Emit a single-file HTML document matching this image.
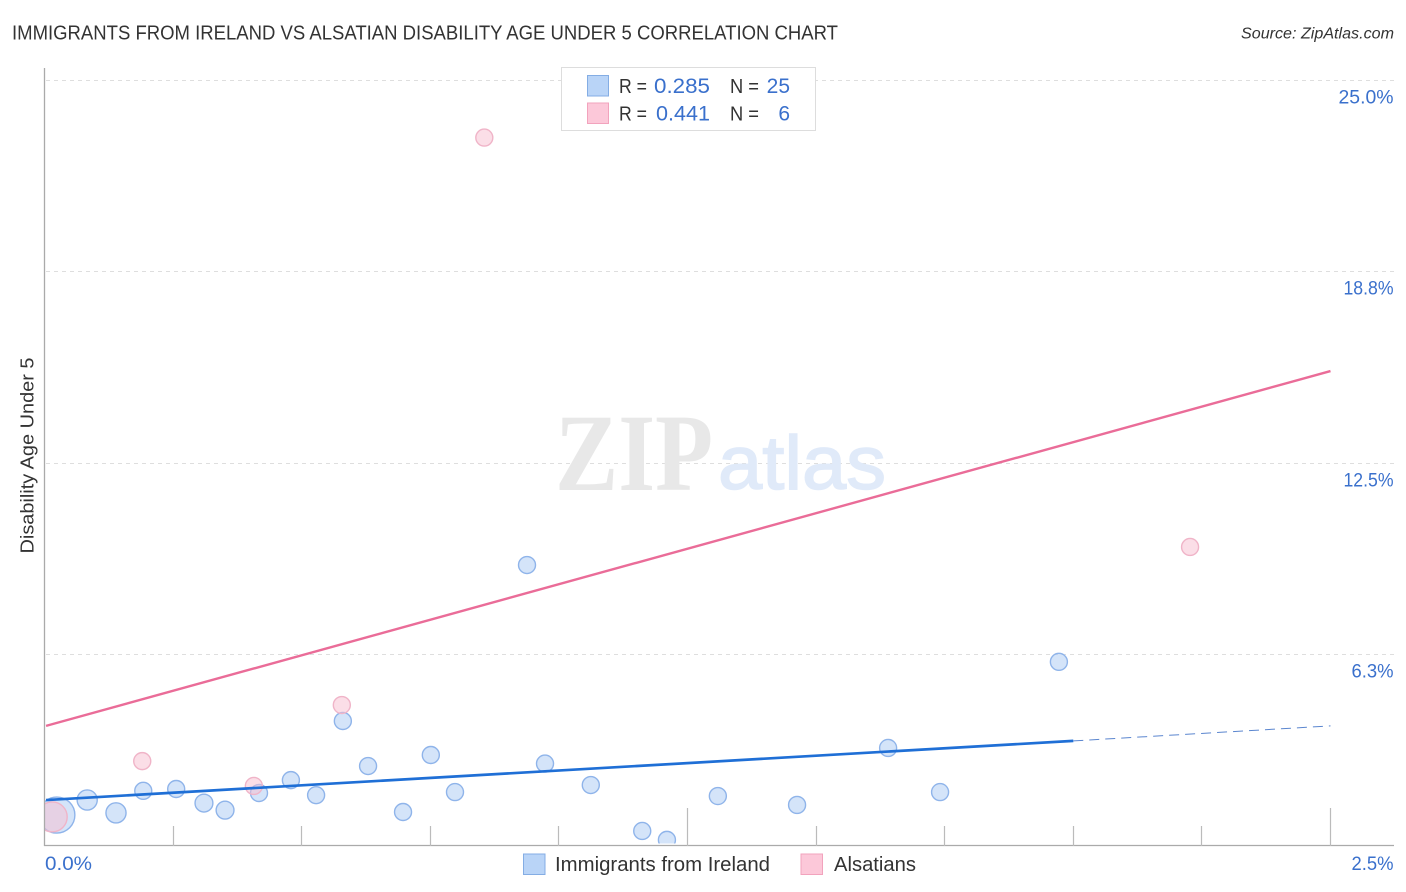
<!DOCTYPE html>
<html lang="en">
<head>
<meta charset="utf-8">
<title>Immigrants from Ireland vs Alsatian Disability Age Under 5 Correlation Chart</title>
<style>
html,body{margin:0;padding:0;background:#fff;}
svg{display:block;font-family:"Liberation Sans",sans-serif;}
</style>
</head>
<body>
<svg id="chart" xmlns="http://www.w3.org/2000/svg" width="1406" height="892" viewBox="0 0 1406 892">
  <defs>
    <clipPath id="plot-clip"><rect x="45" y="60" width="1350" height="783.5"/></clipPath>
  </defs>
  <rect x="0" y="0" width="1406" height="892" fill="#fff"/>
  <text x="12" y="39.5" font-size="20" fill="#333" textLength="826" lengthAdjust="spacingAndGlyphs">IMMIGRANTS FROM IRELAND VS ALSATIAN DISABILITY AGE UNDER 5 CORRELATION CHART</text>
  <text x="1394" y="38.5" font-size="15.5" font-style="italic" fill="#333" text-anchor="end" textLength="153" lengthAdjust="spacingAndGlyphs">Source: ZipAtlas.com</text>
  <g id="grid"></g>
  <g>
    <text x="555" y="490" font-family="'Liberation Serif',serif" font-weight="bold" font-size="110" fill="#e8e8e8" textLength="158" lengthAdjust="spacingAndGlyphs">ZIP</text>
    <text x="718" y="489" font-size="76" fill="#e0eaf9" stroke="#e0eaf9" stroke-width="1.5" textLength="168" lengthAdjust="spacingAndGlyphs">atlas</text>
  </g>
  <g id="points" clip-path="url(#plot-clip)"></g>
  <rect x="0" y="60" width="44.5" height="790" fill="#fff"/>
  <g id="axes"></g>
  <g id="trends"></g>
  <g id="ticklabels"></g>
  <text transform="translate(33.5,455.5) rotate(-90)" font-size="18" fill="#333" text-anchor="middle" textLength="196" lengthAdjust="spacingAndGlyphs">Disability Age Under 5</text>

  <g>
    <rect x="561.5" y="67.5" width="254" height="63" fill="#fff" stroke="#ddd" stroke-width="1"/>
    <rect x="587.5" y="75.5" width="21" height="20.5" fill="#b9d4f7" stroke="#84ade4" stroke-width="1"/>
    <rect x="587.5" y="103" width="21" height="20.5" fill="#fcc8d9" stroke="#f2a3bd" stroke-width="1"/>
    <text x="619" y="93" font-size="20" fill="#333" textLength="28" lengthAdjust="spacingAndGlyphs">R =</text>
    <text x="654" y="93" font-size="21" fill="#3a70cc" textLength="56" lengthAdjust="spacingAndGlyphs">0.285</text>
    <text x="730" y="93" font-size="20" fill="#333" textLength="29" lengthAdjust="spacingAndGlyphs">N =</text>
    <text x="790" y="93" font-size="21" fill="#3a70cc" text-anchor="end">25</text>
    <text x="619" y="120.5" font-size="20" fill="#333" textLength="28" lengthAdjust="spacingAndGlyphs">R =</text>
    <text x="656" y="120.5" font-size="21" fill="#3a70cc" textLength="54" lengthAdjust="spacingAndGlyphs">0.441</text>
    <text x="730" y="120.5" font-size="20" fill="#333" textLength="29" lengthAdjust="spacingAndGlyphs">N =</text>
    <text x="790" y="120.5" font-size="21" fill="#3a70cc" text-anchor="end">6</text>
  </g>

  <g>
    <rect x="523.5" y="854" width="21.5" height="20.5" fill="#b9d4f7" stroke="#84ade4" stroke-width="1"/>
    <text x="555" y="871" font-size="20" fill="#333" textLength="215" lengthAdjust="spacingAndGlyphs">Immigrants from Ireland</text>
    <rect x="801" y="854" width="21.5" height="20.5" fill="#fcc8d9" stroke="#f2a3bd" stroke-width="1"/>
    <text x="834" y="871" font-size="20" fill="#333" textLength="82" lengthAdjust="spacingAndGlyphs">Alsatians</text>
  </g>
</svg>
<script>
// Chart data (percent values)
var xTickValues = [0, 0.25, 0.5, 0.75, 1, 1.25, 1.5, 1.75, 2, 2.25, 2.5];
var xMajorTicks = [1.25, 2.5];
var xTickLabels = ["0.0%", "2.5%"];
var yGridValues = [6.25, 12.5, 18.75, 25];
var yTickLabels = ["6.3%", "12.5%", "18.8%", "25.0%"];

var irelandX = [0.024, 0.083, 0.139, 0.192, 0.256, 0.310, 0.351, 0.417, 0.479, 0.528, 0.580, 0.629, 0.697, 0.751, 0.798, 0.938, 0.973, 1.062, 1.162, 1.210, 1.309, 1.463, 1.640, 1.741, 1.972];
var irelandY = [1.01, 1.50, 1.08, 1.80, 1.86, 1.40, 1.17, 1.73, 2.15, 1.66, 4.08, 2.61, 1.11, 2.97, 1.76, 9.17, 2.69, 1.99, 0.49, 0.20, 1.63, 1.34, 3.20, 1.76, 6.01];
var irelandWeight = [4.5, 1.4, 1.4, 1, 1, 1.1, 1.1, 1, 1, 1, 1, 1, 1, 1, 1, 1, 1, 1, 1, 1, 1, 1, 1, 1, 1];

var alsatianX = [0.015, 0.190, 0.407, 0.578, 0.855, 2.227];
var alsatianY = [0.95, 2.77, 1.96, 4.60, 23.12, 9.76];
var alsatianWeight = [3.1, 1, 1, 1, 1, 1];

var irelandTrendX = [0.003, 2.0];
var irelandTrendY = [1.50, 3.43];
var irelandTrendDashX = [2.0, 2.5];
var irelandTrendDashY = [3.43, 3.92];
var alsatianTrendX = [0.003, 2.5];
var alsatianTrendY = [3.92, 15.50];

// Axis functions
function xScale(v) { return 44.5 + v / 2.5 * 1286; }
function yScale(v) { return 846 - v / 25 * 766; }
function radius(w) { return 8.5 * Math.sqrt(w); }

// Label widths follow the wider typeface of the reference
function labelWidth(s) { return s.length === 5 ? (s.charAt(0) === "2" ? 55 : 50) : (s.charAt(0) === "0" ? 47 : 42); }

var NS = "http://www.w3.org/2000/svg";
function make(tag, attrs, parent) {
  var el = document.createElementNS(NS, tag);
  for (var k in attrs) { el.setAttribute(k, attrs[k]); }
  parent.appendChild(el);
  return el;
}

var grid = document.getElementById("grid");
var axes = document.getElementById("axes");
var points = document.getElementById("points");
var trends = document.getElementById("trends");
var labels = document.getElementById("ticklabels");

yGridValues.forEach(function (v, i) {
  var y = Math.floor(yScale(v)) + 0.5;
  var g = make("line", {x1: 46, x2: 1394, y1: y, y2: y, stroke: "#dedede", "stroke-width": 1, "stroke-dasharray": "4 4"}, grid);
  
  
  var t = make("text", {x: 1393.5, y: y + 23, "font-size": 19, fill: "#3a70cc", "text-anchor": "end", textLength: labelWidth(yTickLabels[i]), lengthAdjust: "spacingAndGlyphs"}, labels);
  t.textContent = yTickLabels[i];
  
  
});

var yAxis = make("line", {x1: 44.5, x2: 44.5, y1: 68, y2: 846, stroke: "#aaa", "stroke-width": 1.3}, axes);


var xAxis = make("line", {x1: 44, x2: 1394, y1: 845.5, y2: 845.5, stroke: "#aaa", "stroke-width": 1.3}, axes);



xTickValues.forEach(function (v) {
  if (v === 0) { return; }
  var x = Math.floor(xScale(v)) + 0.5;
  var top = xMajorTicks.indexOf(v) >= 0 ? 808 : 826;
  var tick = make("line", {x1: x, x2: x, y1: top, y2: 846, stroke: "#bbb", "stroke-width": 1.2}, axes);
  
  
});

var x0Label = make("text", {x: 45, y: 870, "font-size": 19, fill: "#3a70cc", textLength: labelWidth(xTickLabels[0]), lengthAdjust: "spacingAndGlyphs"}, labels);
x0Label.textContent = xTickLabels[0];


var x1Label = make("text", {x: 1393.5, y: 870, "font-size": 19, fill: "#3a70cc", "text-anchor": "end", textLength: labelWidth(xTickLabels[1]), lengthAdjust: "spacingAndGlyphs"}, labels);
x1Label.textContent = xTickLabels[1];



irelandX.forEach(function (v, i) {
  var c = make("circle", {cx: xScale(v), cy: yScale(irelandY[i]), r: radius(irelandWeight[i]), fill: "#a9caf3", "fill-opacity": 0.5, stroke: "#8fb4ea", "stroke-width": 1.4}, points);
  
  
});

alsatianX.forEach(function (v, i) {
  var c = make("circle", {cx: xScale(v), cy: yScale(alsatianY[i]), r: radius(alsatianWeight[i]), fill: "#f8bdd0", "fill-opacity": 0.5, stroke: "#f0b4c8", "stroke-width": 1.4}, points);
  
  
});

var alsLine = make("line", {x1: xScale(alsatianTrendX[0]), y1: yScale(alsatianTrendY[0]), x2: xScale(alsatianTrendX[1]), y2: yScale(alsatianTrendY[1]), stroke: "#ea6c98", "stroke-width": 2.4}, trends);


var irLine = make("line", {x1: xScale(irelandTrendX[0]), y1: yScale(irelandTrendY[0]), x2: xScale(irelandTrendX[1]), y2: yScale(irelandTrendY[1]), stroke: "#1f6fd6", "stroke-width": 2.7}, trends);


var irDash = make("line", {x1: xScale(irelandTrendDashX[0]), y1: yScale(irelandTrendDashY[0]), x2: xScale(irelandTrendDashX[1]), y2: yScale(irelandTrendDashY[1]), stroke: "#5b86cf", "stroke-width": 1, "stroke-dasharray": "10 6"}, trends);


</script>
</body>
</html>
